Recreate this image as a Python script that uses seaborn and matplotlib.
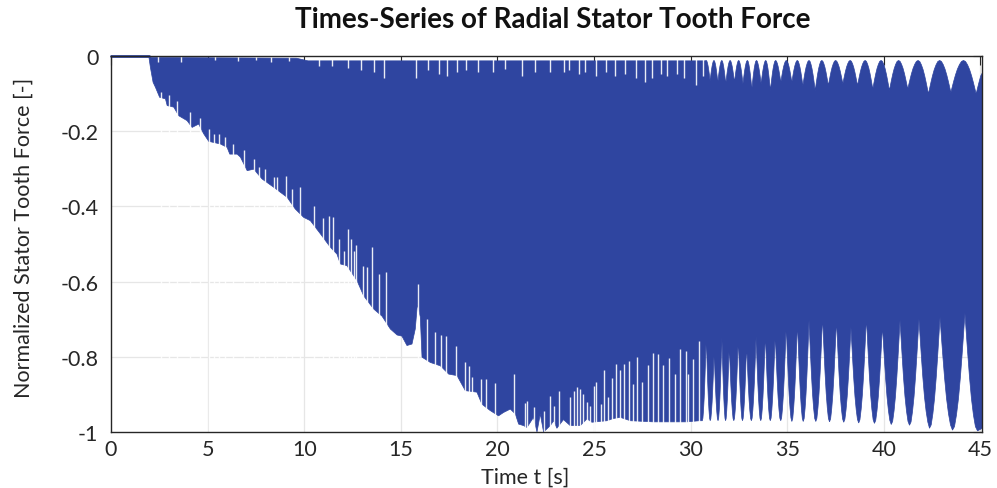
import numpy as np
import matplotlib
matplotlib.use("Agg")
import matplotlib.pyplot as plt
import seaborn as sns

# ---- data ---------------------------------------------------------------
t_start = 1.95      # force is exactly zero before this time
t_end = 45.1

# lower outline of the signal band (t < 30.6)
low_t = [1.956, 2.04, 2.18, 2.30, 2.52, 2.82, 2.91, 3.25, 3.51, 3.94, 4.20, 4.54,
         4.80, 5.06, 5.66, 6.01, 6.15, 6.53, 6.70, 7.05, 7.39, 7.82, 8.42, 9.12,
         9.54, 9.97, 10.32, 10.84, 11.36, 11.70, 11.87, 12.22, 12.74, 13.08, 13.60,
         14.03, 14.46, 14.81, 15.06, 15.32, 15.58, 15.75, 15.86, 16.01, 16.10,
         16.53, 17.05, 17.48, 17.91, 18.34, 18.94, 19.20, 19.63, 20.06, 20.32,
         20.67, 20.93, 21.10, 21.36, 21.53, 21.87, 22.05, 22.22, 22.39, 22.74,
         22.91, 23.08, 23.42, 23.77, 24.29, 24.64, 24.89, 25.67, 26.01, 26.36,
         26.88, 28.08, 29.81, 30.45]
low_v = [0.0, -0.030, -0.070, -0.083, -0.110, -0.114, -0.132, -0.136, -0.159,
         -0.172, -0.190, -0.181, -0.207, -0.227, -0.234, -0.243, -0.261, -0.261,
         -0.269, -0.305, -0.301, -0.327, -0.349, -0.376, -0.407, -0.429, -0.438,
         -0.473, -0.509, -0.527, -0.553, -0.558, -0.598, -0.638, -0.673, -0.692,
         -0.726, -0.742, -0.745, -0.770, -0.766, -0.726, -0.660, -0.694, -0.801,
         -0.815, -0.824, -0.846, -0.850, -0.890, -0.894, -0.926, -0.943, -0.957,
         -0.948, -0.939, -0.952, -0.979, -0.983, -0.988, -0.961, -1.0, -0.952,
         -1.0, -0.983, -0.970, -0.990, -0.967, -0.983, -0.983, -0.965, -0.974,
         -0.970, -0.964, -0.961, -0.970, -0.973, -0.973, -0.970]

# thin white gaps reaching up into the band from below
low_spike_t = [2.6, 3.0, 3.4, 4.1, 4.6, 5.06, 5.32, 5.58, 5.92, 6.3, 6.9, 7.39,
               7.65, 7.99, 8.42, 8.60, 9.08, 9.37, 9.80, 10.5, 11.0, 11.27, 11.49,
               11.79, 12.08, 12.25, 12.43, 12.56, 12.70, 13.03, 13.25, 13.49, 13.86,
               14.25, 15.87, 16.36, 16.79, 17.10, 17.36, 17.87, 18.31, 18.51, 18.68,
               19.15, 19.43, 19.86, 20.84, 21.53, 21.44, 21.87, 22.43, 22.70, 22.94,
               23.17, 23.77, 23.94, 24.12, 24.25, 24.43, 24.64, 24.81, 24.98, 25.12,
               25.38, 25.53, 25.75, 25.93, 26.14, 26.36, 26.56, 26.79, 27.00, 27.25,
               27.51, 27.77, 28.03, 28.29, 28.55, 28.86, 29.17, 29.46, 29.76, 29.89,
               30.15, 30.46]
low_spike_v = [-0.095, -0.105, -0.120, -0.150, -0.165, -0.194, -0.207, -0.207,
               -0.216, -0.235, -0.250, -0.274, -0.296, -0.301, -0.323, -0.323,
               -0.318, -0.354, -0.349, -0.400, -0.430, -0.425, -0.429, -0.487,
               -0.518, -0.46, -0.487, -0.518, -0.504, -0.558, -0.562, -0.509,
               -0.580, -0.575, -0.606, -0.699, -0.735, -0.742, -0.744, -0.770,
               -0.815, -0.824, -0.855, -0.859, -0.859, -0.870, -0.846, -0.917,
               -0.923, -0.934, -0.943, -0.903, -0.930, -0.890, -0.908, -0.890,
               -0.881, -0.886, -0.899, -0.921, -0.930, -0.877, -0.868, -0.926,
               -0.834, -0.908, -0.857, -0.819, -0.834, -0.819, -0.811, -0.872,
               -0.801, -0.868, -0.822, -0.790, -0.793, -0.822, -0.803, -0.846,
               -0.779, -0.785, -0.846, -0.806, -0.759]

# upper outline (t < 30.8)
up_t = [1.95, 2.10, 9.60, 10.20, 30.75]
up_v = [0.0, -0.004, -0.006, -0.013, -0.013]

# thin white gaps hanging down from the top
up_spike_t = [2.45, 3.6, 5.4, 6.6, 7.5, 8.3, 9.2, 10.77, 11.46, 12.25, 12.94,
              13.63, 14.13, 15.81, 16.40, 17.00, 17.40, 17.89, 18.39, 18.98, 19.77,
              20.4, 21.26, 21.95, 22.74, 23.44, 23.73, 24.23, 24.53, 25.12, 25.61,
              26.11, 26.60, 27.20, 27.65, 27.99, 28.48, 28.78, 29.28, 29.67, 30.26,
              30.66]
up_spike_v = [-0.017, -0.015, -0.012, -0.014, -0.012, -0.015, -0.014, -0.027,
              -0.027, -0.032, -0.037, -0.043, -0.058, -0.058, -0.037, -0.048,
              -0.053, -0.043, -0.037, -0.043, -0.043, -0.035, -0.053, -0.043,
              -0.043, -0.043, -0.037, -0.048, -0.043, -0.053, -0.043, -0.053,
              -0.048, -0.058, -0.070, -0.058, -0.048, -0.053, -0.048, -0.058,
              -0.077, -0.053]

# beating part (t > 30.8): notches of the lower edge and of the upper edge
lo_notch_t = [30.81, 31.22, 31.62, 32.00, 32.47, 32.90, 33.39, 33.87, 34.38,
              34.95, 35.53, 36.13, 36.83, 37.55, 38.30, 39.10, 39.93, 40.84,
              41.82, 42.91, 44.20]
lo_notch_tip = [-0.744, -0.787, -0.748, -0.766, -0.748, -0.766, -0.745, -0.737,
                -0.739, -0.715, -0.708, -0.702, -0.692, -0.701, -0.721, -0.695,
                -0.717, -0.702, -0.699, -0.695, -0.684]
lo_lobe_v = [-0.970, -0.970, -0.970, -0.970, -0.970, -0.970, -0.970, -0.970,
             -0.970, -0.970, -0.972, -0.972, -0.972, -0.973, -0.974, -0.976,
             -0.977, -0.980, -0.982, -0.990, -0.995]
lo_end_t = [44.85, 45.1]
lo_end_v = [-0.997, -0.99]

up_notch_t = [31.01, 31.41, 31.82, 32.27, 32.71, 33.17, 33.65, 34.13, 34.67,
              35.24, 35.81, 36.45, 37.13, 37.88, 38.64, 39.43, 40.29, 41.24,
              42.31, 43.47, 44.78]
up_notch_tip = [-0.066, -0.070, -0.074, -0.070, -0.074, -0.088, -0.074, -0.092,
                -0.070, -0.070, -0.079, -0.092, -0.079, -0.074, -0.079, -0.088,
                -0.092, -0.088, -0.101, -0.097, -0.101]
up_arch_v = -0.012
up_end_v = -0.045

xticks = [0, 5, 10, 15, 20, 25, 30, 35, 40, 45]
yticks = [0, -0.2, -0.4, -0.6, -0.8, -1]
ytick_labels = ["0", "-0.2", "-0.4", "-0.6", "-0.8", "-1"]

# ---- style ---------------------------------------------------------------
blue = "#2F45A0"
dark = "#262626"

# notch shape (rounded lobes, sharp cusp): offset in units of the distance to
# the neighbouring notch, and how far the edge has moved from lobe to tip
W = np.array([-0.5, -0.42, -0.34, -0.26, -0.18, -0.12, -0.07, -0.035, -0.012, 0,
              0.012, 0.035, 0.07, 0.12, 0.18, 0.26, 0.34, 0.42])
H = np.array([0, 0.03, 0.13, 0.27, 0.46, 0.63, 0.78, 0.89, 0.96, 1,
              0.96, 0.89, 0.78, 0.63, 0.46, 0.27, 0.13, 0.03])


def notched_edge(nt, tip, base):
    nt = np.asarray(nt, float)
    tip = np.asarray(tip, float)
    base = np.broadcast_to(np.asarray(base, float), nt.shape)
    gaps = np.diff(nt)
    left = np.r_[gaps[0], gaps]
    right = np.r_[gaps, gaps[-1]]
    ts, vs = [], []
    for i in range(len(nt)):
        g = np.where(W < 0, left[i], right[i])
        ts.append(nt[i] + W * g)
        vs.append(base[i] + H * (tip[i] - base[i]))
    return np.concatenate(ts), np.concatenate(vs)


sns.set_theme(style="white")
plt.rcParams["font.family"] = ["Lato", "DejaVu Sans"]

fig = plt.figure(figsize=(9.97, 4.89), dpi=100)
ax = fig.add_axes([0.1113, 0.1145, 0.874, 0.769])

# outline of the band
nt, nv = notched_edge(up_notch_t, up_notch_tip, up_arch_v)
keep = nt <= t_end
upper_t = np.r_[up_t, nt[keep], t_end]
upper_v = np.r_[up_v, nv[keep], up_end_v]

lt, lv = notched_edge(lo_notch_t, lo_notch_tip, lo_lobe_v)
lower_t = np.r_[low_t, lt, lo_end_t]
lower_v = np.r_[low_v, lv, lo_end_v]

ax.fill(np.r_[upper_t, lower_t[::-1]], np.r_[upper_v, lower_v[::-1]],
        color=blue, lw=0.5, ec=blue, zorder=2)
ax.vlines(low_spike_t, -1.0, low_spike_v, color="white", lw=1.0, alpha=0.9, zorder=2.2)
ax.vlines(up_spike_t, up_spike_v, 0.0, color="white", lw=1.0, alpha=0.9, zorder=2.2)

# zero force before the start
sns.lineplot(x=[0, t_start], y=[0, 0], ax=ax, color=blue, lw=2.0,
             zorder=3, clip_on=False)

# grid below the data
for x in xticks[1:]:
    ax.axvline(x, color="#E6E6E6", lw=0.9, zorder=0)
for y in yticks[1:-1]:
    ax.axhline(y, color="#E6E6E6", lw=0.9, zorder=0)

ax.set_xlim(0, t_end)
ax.set_ylim(-1, 0)
ax.set_xticks(xticks)
ax.set_xticklabels([str(x) for x in xticks])
ax.set_yticks(yticks)
ax.set_yticklabels(ytick_labels)
ax.tick_params(direction="in", length=6.5, width=0.8, color=dark,
               labelsize=15.5, labelcolor=dark, top=True, right=True)
ax.tick_params(axis="y", pad=9)
ax.tick_params(axis="x", pad=5)
for s in ax.spines.values():
    s.set_visible(True)
    s.set_color(dark)
    s.set_linewidth(1.0)
    s.set_zorder(4)

ax.set_xlabel("Time t [s]", fontsize=15.5, color=dark)
ax.xaxis.set_label_coords(0.475, -0.093)
ax.set_ylabel("Normalized Stator Tooth Force [-]", fontsize=15.5, color=dark)
ax.yaxis.set_label_coords(-0.089, 0.519)
ax.set_title("Times-Series of Radial Stator Tooth Force", fontsize=20,
             fontweight="bold", color="#111111", pad=21, x=0.507)

fig.savefig("out.png", dpi=100)
